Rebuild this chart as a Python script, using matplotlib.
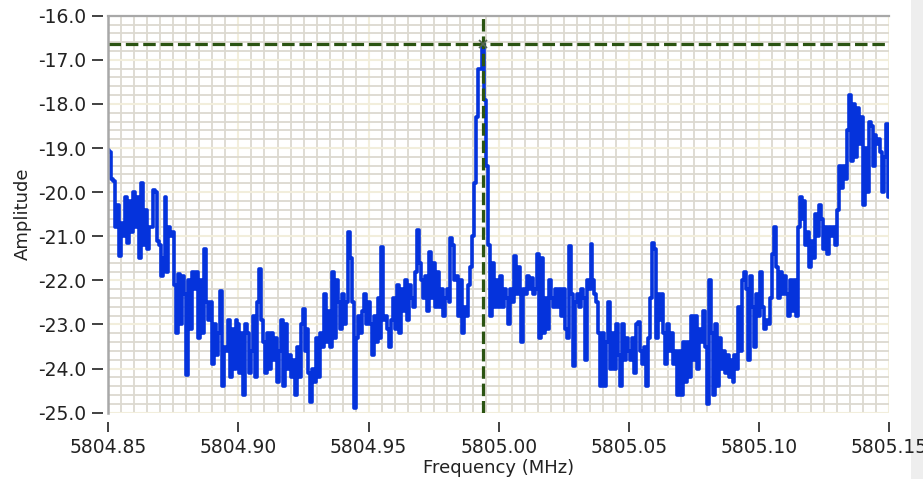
import numpy as np
import matplotlib
matplotlib.use("Agg")
import matplotlib.pyplot as plt
from matplotlib.patches import Rectangle
from matplotlib.ticker import MultipleLocator

# spectrum span (MHz)
f_start = 5804.85
f_stop = 5805.15

# amplitude trace in six chunks left -> right
amp_seg1 = [-19.05, -19.1, -19.7, -19.75, -20.8, -20.3, -21.45, -20.7, -21.0, -20.1,
            -21.15, -20.2, -20.9, -20.0, -20.8, -20.1, -21.5, -19.8, -21.2, -20.4,
            -21.3, -20.8, -20.8, -19.95, -20.0, -21.1, -21.2, -21.9, -21.5, -20.1,
            -21.8, -20.8, -21.0, -20.9, -22.1, -23.2, -21.85, -23.0, -21.9, -22.3,
            -24.15, -22.0, -23.1, -21.8, -22.2, -21.8, -23.3, -22.0, -23.2, -21.3,
            -22.5, -22.9, -22.5, -23.9, -23.0, -23.7, -23.2, -22.25, -24.4, -23.5,
            -23.6, -22.9, -24.2, -23.1, -24.0, -22.9]
amp_seg2 = [-23.0, -24.1, -23.2, -24.6, -23.0, -23.2, -24.1, -23.6, -22.8, -24.2,
            -22.5, -21.75, -22.9, -23.4, -24.1, -23.2, -24.0, -23.2, -23.8, -23.3,
            -24.3, -23.6, -22.9, -24.4, -23.0, -24.0, -23.7, -24.2, -23.8, -24.6,
            -23.5, -24.2, -23.0, -22.65, -23.6, -23.1, -24.1, -24.75, -24.0, -24.3,
            -23.3, -24.2, -23.2, -23.5, -22.3, -23.4, -22.7, -23.5, -21.8, -23.3,
            -22.0, -22.5, -23.1, -22.3, -23.0, -22.5, -20.9, -21.5, -22.5, -24.9,
            -23.3, -22.8, -23.2, -22.7, -22.3, -23.0, -22.5]
amp_seg3 = [-23.0, -23.7, -22.8, -23.4, -22.4, -23.3, -21.25, -22.9, -22.8, -23.1,
            -23.5, -22.9, -22.4, -23.1, -22.1, -23.2, -22.2, -22.7, -22.0, -22.9,
            -22.1, -22.4, -22.6, -21.8, -20.85, -21.6, -22.0, -22.4, -21.9, -22.7,
            -21.35, -22.4, -21.6, -22.6, -21.8, -22.6, -22.2, -22.8, -22.4, -22.2,
            -22.5, -21.05, -21.2, -22.0, -21.9, -22.8, -22.0, -23.2, -22.6, -22.8,
            -22.1, -21.7, -21.0, -19.8, -18.3, -17.2, -17.2, -16.64, -17.9, -19.4,
            -21.2, -22.8, -21.6, -22.6, -22.0, -22.6]
amp_seg4 = [-21.9, -22.6, -22.2, -22.4, -23.0, -22.2, -22.5, -21.45, -22.3, -21.7,
            -22.3, -23.4, -22.2, -22.3, -21.9, -22.2, -21.95, -22.3, -22.2, -21.4,
            -23.3, -21.5, -23.2, -22.4, -23.1, -22.0, -22.4, -22.6, -22.2, -22.6,
            -22.2, -22.8, -22.2, -23.1, -23.3, -21.22, -22.3, -23.95, -22.5, -22.3,
            -22.6, -22.2, -22.4, -23.8, -22.0, -22.2, -21.17, -22.0, -22.3, -22.5,
            -23.2, -24.4, -23.2, -24.4, -23.4, -22.5, -24.0, -23.2, -24.0, -23.0,
            -23.7, -24.4, -23.0, -23.8, -23.3, -23.6]
amp_seg5 = [-23.8, -23.3, -24.1, -23.0, -22.95, -23.6, -23.9, -23.5, -24.4, -23.3,
            -22.4, -21.15, -21.3, -23.3, -22.3, -22.9, -22.3, -23.2, -23.9, -23.0,
            -23.6, -23.2, -23.9, -23.6, -24.6, -23.6, -24.6, -23.4, -24.3, -23.4,
            -24.2, -22.8, -23.8, -22.8, -24.0, -23.1, -23.4, -22.7, -23.5, -24.8,
            -22.0, -23.2, -24.6, -23.0, -24.4, -23.3, -24.0, -23.6, -24.1, -23.7,
            -24.2, -23.8, -24.3, -23.7, -24.0, -22.6, -23.6, -22.0, -21.8, -22.2,
            -23.8, -21.9, -22.6, -23.5, -22.3, -22.8]
amp_seg6 = [-21.8, -22.6, -23.1, -22.9, -23.0, -22.4, -21.4, -20.8, -21.7, -22.4,
            -21.8, -22.3, -21.9, -22.3, -22.8, -22.0, -22.7, -22.0, -22.8, -20.8,
            -20.1, -20.6, -20.2, -21.2, -20.9, -21.7, -21.1, -21.5, -20.5, -21.0,
            -20.3, -20.6, -21.3, -20.8, -21.4, -20.8, -21.0, -20.8, -21.2, -20.4,
            -19.4, -19.9, -19.4, -19.7, -18.6, -17.8, -19.3, -18.0, -19.2, -18.1,
            -18.9, -18.3, -20.3, -19.0, -20.0, -18.4, -18.5, -19.4, -18.7, -18.9,
            -18.8, -19.1, -20.0, -19.2, -18.45, -20.1]

x_ticks = [5804.85, 5804.90, 5804.95, 5805.00, 5805.05, 5805.10, 5805.15]
y_ticks = [-25.0, -24.0, -23.0, -22.0, -21.0, -20.0, -19.0, -18.0, -17.0, -16.0]

amp = np.array(amp_seg1 + amp_seg2 + amp_seg3 + amp_seg4 + amp_seg5 + amp_seg6)
freq = np.linspace(f_start, f_stop, len(amp))

# cursor sits on the peak
ipk = np.argmax(amp)
cur_f, cur_a = freq[ipk], amp[ipk]

plt.rcParams['font.family'] = ['DejaVu Sans']
plt.rcParams['lines.scale_dashes'] = False

fig = plt.figure(figsize=(9.23, 4.79), dpi=100)
# light gray strip at the right edge (behind everything)
fig.patches.append(Rectangle((911 / 923, 0), 12 / 923, 1, transform=fig.transFigure,
                             facecolor='#eeeeee', edgecolor='none', zorder=-1))
ax = fig.add_axes([108.3 / 923, 1 - 412.7 / 479, 781 / 923, 397 / 479])

ax.set_xlim(f_start, f_stop)
ax.set_ylim(-25.0, -16.0)

# grid: minor gray, major cream
ax.xaxis.set_major_locator(MultipleLocator(0.05))
ax.xaxis.set_minor_locator(MultipleLocator(0.005))
ax.yaxis.set_major_locator(MultipleLocator(1.0))
ax.yaxis.set_minor_locator(MultipleLocator(0.2))
ax.grid(which='minor', color='#dcd9d0', linewidth=1.3)
ax.grid(which='major', color='#f2eedc', linewidth=1.5)
ax.set_axisbelow(True)
ax.tick_params(which='minor', length=0)

ax.plot(freq, amp, color='#0533dc', linewidth=2.6, drawstyle='steps-mid', zorder=3)

# cursor
ax.axhline(cur_a, color='#2b5412', linewidth=2.3, dashes=(9, 3.5), zorder=4)
ax.axvline(cur_f, color='#2b5412', linewidth=2.3, dashes=(9, 3.5), zorder=4)
ax.plot([cur_f], [cur_a], marker='x', markersize=6, color='#556655', mew=1.2, zorder=5)

# frame: gray left/top border, ticks offset from the plot
for s in ['right', 'bottom', 'left']:
    ax.spines[s].set_visible(False)
ax.spines['bottom'].set_position(('outward', 7))
ax.spines['left'].set_position(('outward', 4))
ax.spines['top'].set_color('#a8a8a8')
ax.spines['top'].set_linewidth(1.6)
ax.plot([0, 0], [0, 1], transform=ax.transAxes, color='#a8a8a8', linewidth=1.8,
        clip_on=False, zorder=6)

ax.set_xticks(x_ticks)
ax.set_xticklabels(["%.2f" % v for v in x_ticks])
ax.set_yticks(y_ticks)
ax.set_yticklabels(["%.1f" % v for v in y_ticks])
ax.tick_params(axis='x', which='major', direction='out', length=7, width=1.3,
               color='#333333', labelsize=13.5, labelcolor='#222222', pad=4)
ax.tick_params(axis='y', which='major', direction='out', length=8, width=1.3,
               color='#333333', labelsize=13.5, labelcolor='#222222', pad=4)

ax.set_xlabel("Frequency (MHz)", fontsize=13, color='#222222', labelpad=2)
ax.set_ylabel("Amplitude", fontsize=13, color='#222222', labelpad=4)

fig.savefig("out.png", dpi=100)
